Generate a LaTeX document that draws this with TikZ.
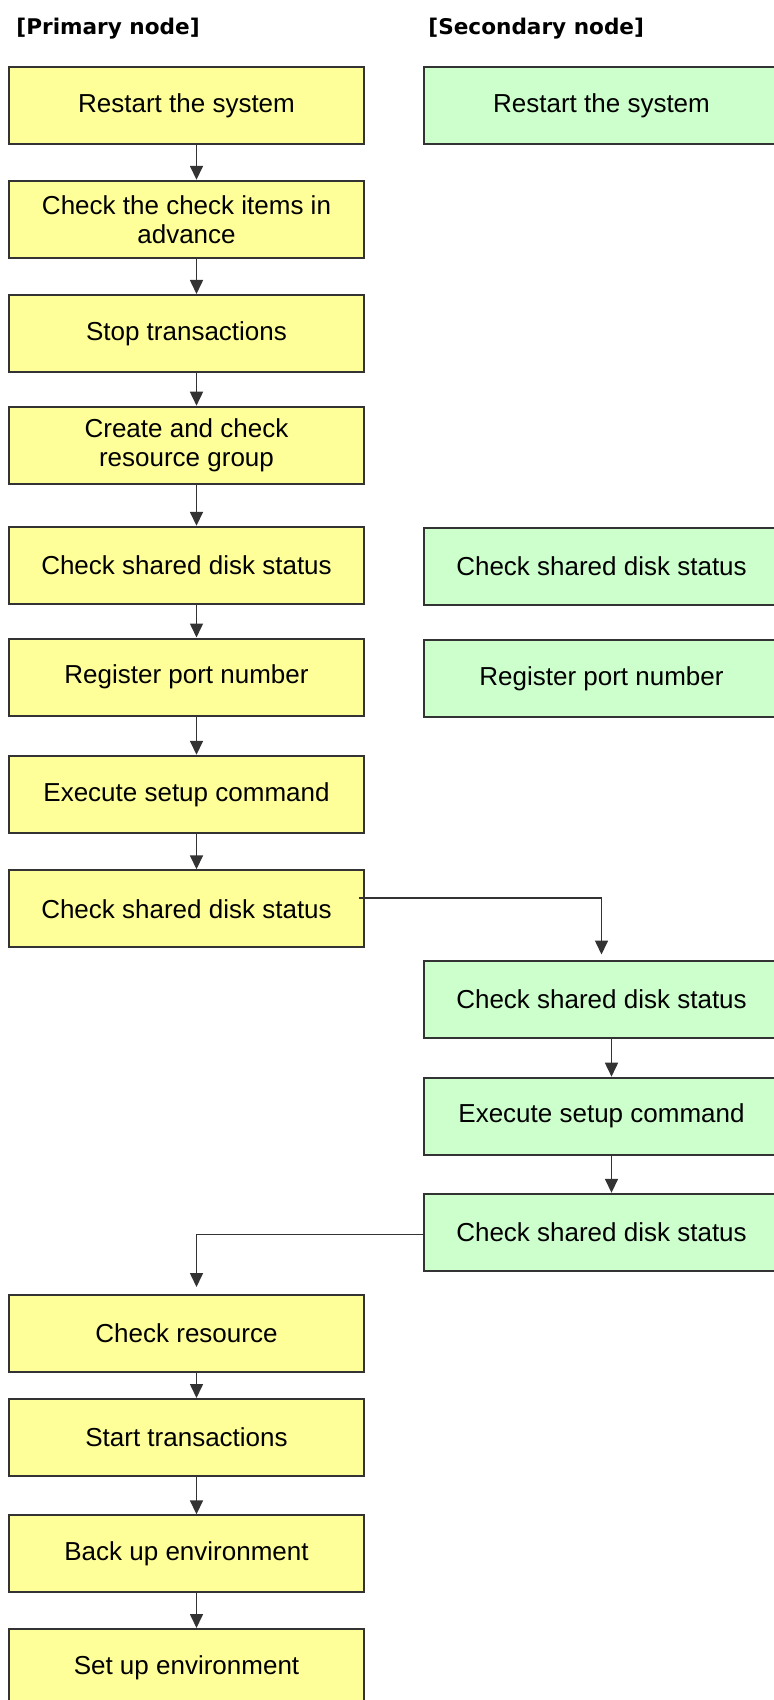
\documentclass[tikz,border=0pt]{standalone}
\usepackage{fontspec}
\setmainfont{Liberation Sans}
\newfontfamily\headfont{DejaVu Sans}
\usetikzlibrary{arrows.meta}

\definecolor{primfill}{HTML}{FFFF99}
\definecolor{secfill}{HTML}{CCFFCC}

\tikzset{
  stepbox/.style={draw=black!80, line width=1pt, minimum width=177.5pt,
    minimum height=38.5pt, inner sep=2pt, align=center,
    font=\fontsize{13}{14.5}\selectfont},
  prim/.style={stepbox, fill=primfill},
  sec/.style={stepbox, fill=secfill},
  flow/.style={draw=black!80, line width=0.8pt, -{Triangle[length=7pt,width=6.5pt]}},
  head/.style={anchor=base west, inner sep=0pt,
    font=\headfont\bfseries\fontsize{10.8}{13}\selectfont}
}

\begin{document}
\begin{tikzpicture}[x=0.5pt,y=-0.5pt]
    \useasboundingbox (0,0) rectangle (774,1700);

    % Column titles
    \node[head] (hprim) at (16,35) {[Primary node]};
    \node[head] (hsec) at (428,35) {[Secondary node]};

    % Primary node
    \node[prim] (p1) at (186.5,106) {Restart the system};
    \node[prim] (p2) at (186.5,219.3) {Check the check items in\\advance};
    \node[prim] (p3) at (186.5,333.5) {Stop transactions};
    \node[prim] (p4) at (186.5,445.2) {Create and check\\resource group};
    \node[prim] (p5) at (186.5,565.3) {Check shared disk status};
    \node[prim] (p6) at (186.5,677) {Register port number};
    \node[prim] (p7) at (186.5,794.3) {Execute setup command};
    \node[prim] (p8) at (186.5,908.8) {Check shared disk status};
    \node[prim] (p9) at (186.5,1333.5) {Check resource};
    \node[prim] (p10) at (186.5,1437.5) {Start transactions};
    \node[prim] (p11) at (186.5,1553.8) {Back up environment};
    \node[prim] (p12) at (186.5,1667.5) {Set up environment};

    % Secondary node
    \node[sec] (s1) at (601.5,106) {Restart the system};
    \node[sec] (s2) at (601.5,566.3) {Check shared disk status};
    \node[sec] (s3) at (601.5,678.3) {Register port number};
    \node[sec] (s4) at (601.5,999) {Check shared disk status};
    \node[sec] (s5) at (601.5,1116.2) {Execute setup command};
    \node[sec] (s6) at (601.5,1232.3) {Check shared disk status};

    % Flow
    \foreach \a/\b in {p1/p2,p2/p3,p3/p4,p4/p5,p5/p6,p6/p7,p7/p8,
                       p9/p10,p10/p11,p11/p12,s4/s5,s5/s6}
        \draw[flow] ([xshift=5pt]\a.south) -- ([xshift=5pt]\b.north);

    \draw[flow] ([xshift=-3pt,yshift=5.5pt]p8.east) -| ([yshift=2.5pt]s4.north);
    \draw[flow] ([yshift=-1pt]s6.west) -| ([xshift=5pt,yshift=3.5pt]p9.north);
\end{tikzpicture}
\end{document}
